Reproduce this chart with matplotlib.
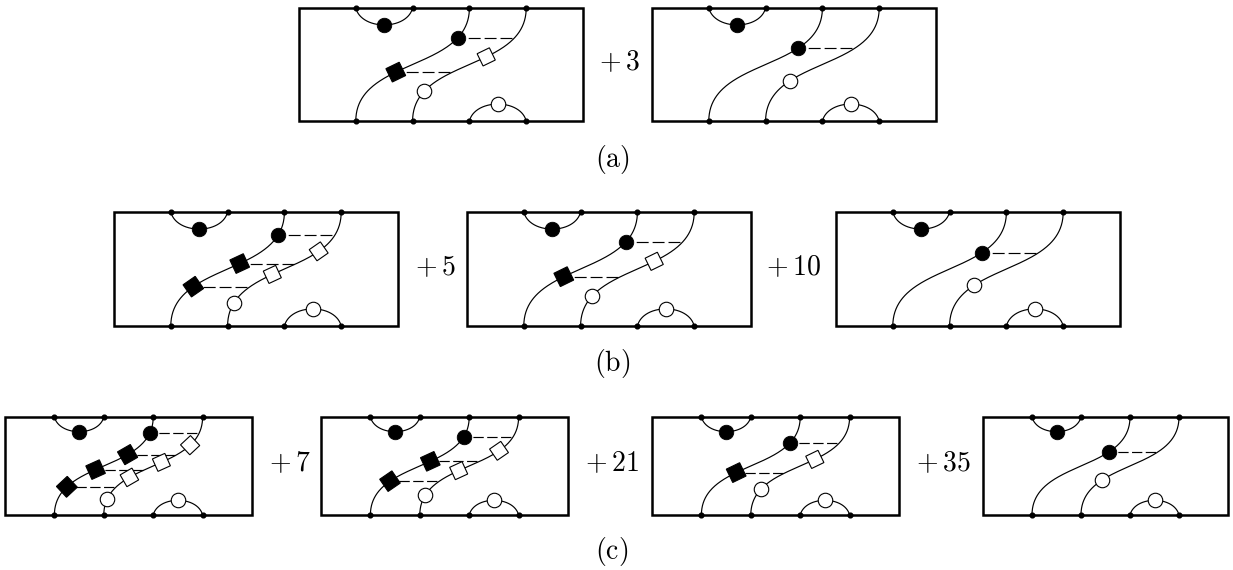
import numpy as np
import matplotlib
matplotlib.use("Agg")
import matplotlib.pyplot as plt
from matplotlib.patches import Polygon, Rectangle

plt.rcParams['mathtext.fontset'] = 'cm'

# one entry per box: left edge, right edge, top, bottom, how many black/white pairs
box_left = [299, 652, 114, 467, 836, 5, 321, 652, 983]
box_right = [583, 936, 398, 751, 1120, 252, 568, 899, 1228]
box_top = [8, 8, 212, 212, 212, 417, 417, 417, 417]
box_bottom = [121, 121, 326, 326, 326, 515, 515, 515, 515]
box_pairs = [2, 1, 3, 2, 1, 4, 3, 2, 1]

plus_labels = ['$+\\:3$', '$+\\:5$', '$+\\:10$', '$+\\:7$', '$+\\:21$', '$+\\:35$']
plus_x = [620, 436, 794, 290, 612, 944]
plus_y = [62, 267, 267, 463, 463, 463]

row_labels = ['$\\mathrm{(a)}$', '$\\mathrm{(b)}$', '$\\mathrm{(c)}$']
row_x = [612, 612, 612]
row_y = [159, 363, 551]

STRAND_C = 1.12
PX_MARK = 14.5
LW_THIN = 0.85
LW_BOX = 1.8
FONT = 20


def bezier(p0, p1, p2, p3, t):
    s = 1 - t
    return s**3*p0 + 3*s*s*t*p1 + 3*s*t*t*p2 + t**3*p3


def strand(t, x0):
    # s-curve from bottom to top, in box units (5 wide, 2 high)
    x = bezier(x0, x0, x0+2, x0+2, t)
    y = bezier(0, STRAND_C, 2-STRAND_C, 2, t)
    return x, y


def strand_slope(t):
    dt = 0.001
    x1, y1 = strand(t-dt, 0)
    x2, y2 = strand(t+dt, 0)
    return np.array([x2-x1, y2-y1])


def draw_square(ax, cx, cy, t, ux, uy, col, h):
    d = strand_slope(t)*np.array([ux, -uy])
    d = d/np.hypot(d[0], d[1])
    n = np.array([-d[1], d[0]])
    c = np.array([cx, cy])
    pts = [c+h*d+h*n, c+h*d-h*n, c-h*d-h*n, c-h*d+h*n]
    ax.add_patch(Polygon(pts, closed=True, fc=col, ec='black', lw=0.8, zorder=5))


def draw_box(ax, left, right, top, bottom, pairs):
    ux = (right-left)/5.0
    uy = (bottom-top)/2.0
    to_x = lambda x: left + x*ux
    to_y = lambda y: bottom - y*uy

    ax.add_patch(Rectangle((left, top), right-left, bottom-top, fill=False, ec='black', lw=LW_BOX, zorder=3))

    # strands
    tt = np.linspace(0, 1, 200)
    for x0 in [1, 2]:
        x, y = strand(tt, x0)
        ax.plot(to_x(x), to_y(y), color='black', lw=LW_THIN, zorder=2)

    # the two caps
    x = bezier(1, 1.1, 1.9, 2, tt)
    y = bezier(2, 1.6, 1.6, 2, tt)
    ax.plot(to_x(x), to_y(y), color='black', lw=LW_THIN, zorder=2)
    ax.plot(to_x(x+2), to_y(2-y), color='black', lw=LW_THIN, zorder=2)
    ax.plot(to_x(1.5), to_y(1.7), 'o', ms=PX_MARK*0.72, mfc='black', mec='black', mew=0.6, zorder=5)
    ax.plot(to_x(3.5), to_y(0.3), 'o', ms=PX_MARK*0.72, mfc='white', mec='black', mew=0.8, zorder=5)

    # nodes
    for nx in [1, 2, 3, 4]:
        ax.plot([to_x(nx)]*2, [top, bottom], 'o', ms=3.4, color='black', ls='none', zorder=4)

    # markers up the strands
    n = 2*pairs + 1
    step = 1.0/n
    if pairs == 1:
        t_white, t_black = [0.3], [0.7]
    else:
        t_white = [step*(2*i+1) for i in range(pairs)]
        t_black = [step*(2*i+2) for i in range(pairs)]

    # three dashes per line, so they scale with the box (px to lw units)
    k = ux*0.72/LW_THIN
    dash = (0.10*k, (0.21*k, 0.07*k))

    for i, t in enumerate(t_black):
        x, y = strand(t, 1)
        ax.plot([to_x(x), to_x(x+1)], [to_y(y)]*2, color='black', lw=LW_THIN, ls=dash, zorder=1)
        if i == len(t_black)-1:
            ax.plot(to_x(x), to_y(y), 'o', ms=PX_MARK*0.72, mfc='black', mec='black', mew=0.6, zorder=5)
        else:
            draw_square(ax, to_x(x), to_y(y), t, ux, uy, 'black', 7.4)

    for i, t in enumerate(t_white):
        x, y = strand(t, 2)
        if i == 0:
            ax.plot(to_x(x), to_y(y), 'o', ms=PX_MARK*0.72, mfc='white', mec='black', mew=0.8, zorder=5)
        else:
            draw_square(ax, to_x(x), to_y(y), t, ux, uy, 'white', 6.8)


fig = plt.figure(figsize=(12.33, 5.70), dpi=100)
ax = fig.add_axes([0, 0, 1, 1])
ax.set_xlim(0, 1233)
ax.set_ylim(570, 0)
ax.axis('off')

for i in range(len(box_left)):
    draw_box(ax, box_left[i], box_right[i], box_top[i], box_bottom[i], box_pairs[i])

for i in range(len(plus_labels)):
    ax.text(plus_x[i], plus_y[i], plus_labels[i], ha='center', va='center', fontsize=FONT, color='black')

for i in range(len(row_labels)):
    ax.text(row_x[i], row_y[i], row_labels[i], ha='center', va='center', fontsize=FONT, color='black')

fig.savefig('out.png', dpi=100)
